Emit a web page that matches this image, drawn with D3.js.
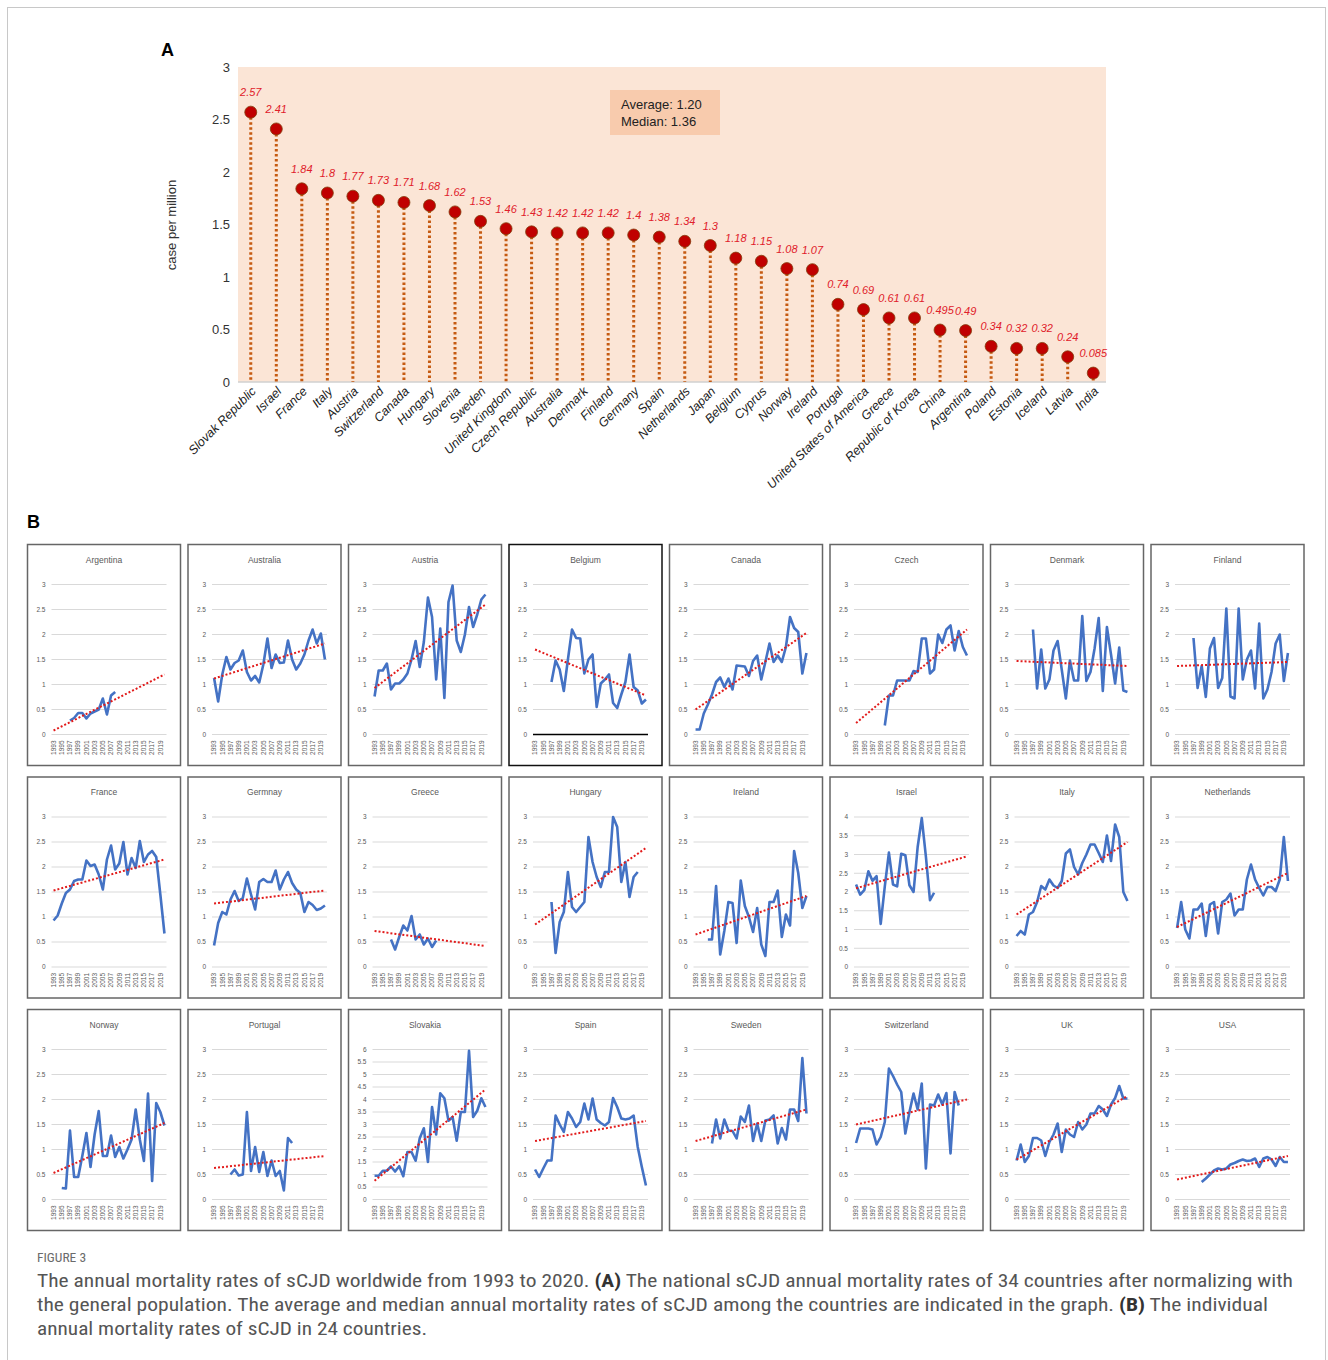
<!DOCTYPE html>
<html>
<head>
<meta charset="utf-8">
<script src="https://cdn.jsdelivr.net/npm/d3@7"></script>
<style>
body { margin: 0; background: #fff; }
svg { display: block; font-family: Arial, "Liberation Sans", sans-serif; }
</style>
</head>
<body>
<script>
var width = 1328, height = 1360;

// ---- panel A data
var countries = ["Slovak Republic","Israel","France","Italy","Austria","Switzerland","Canada","Hungary",
  "Slovenia","Sweden","United Kingdom","Czech Republic","Australia","Denmark","Finland","Germany","Spain",
  "Netherlands","Japan","Belgium","Cyprus","Norway","Ireland","Portugal","United States of America","Greece",
  "Republic of Korea","China","Argentina","Poland","Estonia","Iceland","Latvia","India"];
var rates = [2.57,2.41,1.84,1.8,1.77,1.73,1.71,1.68,1.62,1.53,1.46,1.43,1.42,1.42,1.42,1.4,1.38,
  1.34,1.3,1.18,1.15,1.08,1.07,0.74,0.69,0.61,0.61,0.495,0.49,0.34,0.32,0.32,0.24,0.085];
var rateTicks = [0,0.5,1,1.5,2,2.5,3];
var summaryLines = ["Average: 1.20","Median: 1.36"];

// ---- panel B data (one array per country, starting at firstYear)
var panelNames = ["Argentina","Australia","Austria","Belgium","Canada","Czech","Denmark","Finland",
  "France","Germnay","Greece","Hungary","Ireland","Israel","Italy","Netherlands",
  "Norway","Portugal","Slovakia","Spain","Sweden","Switzerland","UK","USA"];
var firstYear = [1997,1993,1993,1997,1993,2000,1997,1997,
  1993,1993,1997,1997,1996,1993,1993,1993,
  1995,1997,1993,1993,1997,1993,1993,1999];
var yMax = [3,3,3,3,3,3,3,3, 3,3,3,3,3,4,3,3, 3,3,6,3,3,3,3,3];

var argentina = [0.28,0.33,0.43,0.43,0.32,0.42,0.46,0.5,0.72,0.4,0.78,0.85];
var australia = [1.13,0.66,1.2,1.55,1.3,1.43,1.48,1.68,1.25,1.08,1.17,1.04,1.4,1.92,1.33,1.6,1.43,1.44,1.88,1.5,1.3,1.42,1.6,1.88,2.1,1.82,2.02,1.5];
var austria = [0.76,1.28,1.28,1.42,0.9,1.02,1.02,1.1,1.22,1.5,1.87,1.35,1.85,2.74,2.35,1.1,2.12,0.73,2.65,2.98,1.88,1.65,2.0,2.55,2.15,2.4,2.7,2.8];
var belgium = [1.05,1.48,1.3,0.87,1.5,2.1,1.93,1.92,1.22,1.5,1.6,0.55,1.02,1.1,1.2,0.63,0.53,0.8,1.05,1.6,0.95,0.88,0.62,0.7];
var canada = [0.1,0.1,0.42,0.6,0.8,1.05,1.14,0.95,1.12,0.9,1.38,1.37,1.36,1.17,1.47,1.58,1.1,1.45,1.82,1.45,1.58,1.45,1.75,2.35,2.13,2.05,1.22,1.63];
var czech = [0.18,0.78,0.78,1.08,1.08,1.08,1.08,1.27,1.25,1.92,1.92,1.22,1.3,2.0,1.83,2.1,2.18,1.68,2.07,1.75,1.58];
var denmark = [2.1,0.92,1.7,0.92,1.1,1.68,1.87,1.3,0.72,1.48,1.08,1.08,2.37,1.07,1.25,1.72,2.33,0.87,2.15,1.6,1.02,1.74,0.88,0.85];
var finland = [1.93,0.93,1.37,0.75,1.72,1.93,0.93,1.13,2.52,0.76,0.72,2.52,1.1,1.5,1.68,0.92,2.22,0.72,0.9,1.25,1.82,2.0,1.07,1.63];
var france = [0.93,1.03,1.27,1.48,1.55,1.72,1.75,1.75,2.13,2.02,2.05,1.85,1.55,2.15,2.43,1.95,2.07,2.5,1.85,2.18,1.98,2.52,2.1,2.25,2.32,2.2,1.45,0.67];
var germany = [0.43,0.88,1.1,1.05,1.35,1.52,1.32,1.38,1.77,1.45,1.15,1.7,1.76,1.7,1.7,1.93,1.55,1.75,1.9,1.68,1.55,1.48,1.1,1.3,1.24,1.14,1.17,1.23];
var greece = [0.55,0.35,0.6,0.83,0.73,1.02,0.55,0.65,0.45,0.57,0.4,0.53];
var hungary = [1.3,0.28,0.9,1.1,1.9,1.2,1.1,1.2,1.3,2.6,2.1,1.8,1.6,1.9,1.9,3.0,2.8,1.7,2.1,1.4,1.8,1.9];
var ireland = [0.55,0.55,1.62,0.25,0.72,1.3,1.28,0.48,1.73,1.22,1.0,0.7,1.18,0.45,0.22,1.3,1.3,1.53,0.6,1.05,0.83,2.32,1.88,1.18,1.42];
var israel = [2.2,1.93,2.05,2.55,2.3,2.42,1.15,2.15,3.05,2.2,2.15,3.02,2.98,2.18,2.0,3.2,3.97,2.95,1.78,1.98];
var italy = [0.62,0.72,0.65,1.05,1.1,1.3,1.62,1.55,1.75,1.63,1.58,1.72,2.27,2.35,2.0,1.85,2.08,2.25,2.45,2.45,2.28,2.1,2.63,2.12,2.85,2.6,1.5,1.32];
var netherlands = [0.78,1.3,0.75,0.57,1.15,1.15,1.27,0.62,1.25,1.3,0.67,1.3,1.35,1.47,1.03,1.15,1.15,1.75,2.05,1.75,1.58,1.43,1.6,1.6,1.52,1.75,2.6,1.72];
var norway = [0.23,0.22,1.38,0.45,0.45,0.87,1.33,0.65,1.3,1.77,0.87,0.87,1.28,0.85,1.05,0.82,1.0,1.2,1.8,1.2,0.77,2.12,0.37,1.93,1.75,1.48];
var portugal = [0.5,0.6,0.48,0.5,1.75,0.57,1.05,0.55,0.95,0.47,0.78,0.47,0.57,0.18,1.23,1.13];
var slovakia = [0.95,0.95,1.15,1.15,1.32,1.12,1.33,0.93,1.9,1.9,1.55,2.45,2.85,1.5,3.7,2.6,4.25,4.05,3.15,3.3,2.35,3.5,3.5,5.95,3.3,3.55,4.05,3.7];
var spain = [0.6,0.45,0.62,0.78,0.78,1.68,1.5,1.35,1.75,1.62,1.45,1.55,1.92,1.6,2.02,1.6,1.53,1.48,1.55,2.03,1.85,1.62,1.6,1.62,1.68,1.05,0.65,0.28];
var sweden = [1.12,1.6,1.22,1.6,1.38,1.37,1.22,1.66,1.55,1.88,1.17,1.52,1.17,1.58,1.6,1.68,1.12,1.43,1.2,1.8,1.8,1.57,2.83,1.72];
var switzerland = [1.13,1.42,1.42,1.42,1.4,1.1,1.25,1.55,2.62,2.47,2.3,2.15,1.32,1.75,2.12,1.8,2.32,0.62,1.9,1.88,2.1,1.9,2.13,0.92,2.15,1.88];
var uk = [0.78,1.1,0.75,0.87,1.23,1.23,1.18,0.87,1.15,1.3,1.52,0.95,1.4,1.3,1.25,1.55,1.4,1.5,1.72,1.72,1.87,1.8,1.67,1.9,2.03,2.27,2.02,2.02];
var usa = [0.35,0.42,0.5,0.58,0.62,0.6,0.62,0.7,0.73,0.77,0.8,0.77,0.78,0.82,0.65,0.82,0.85,0.8,0.67,0.85,0.75,0.75];

// trend line values at 1993 and 2020
var trendStart = [0.08,1.12,0.93,1.7,0.5,0.23,1.47,1.37, 1.53,1.27,0.72,0.85,0.65,2.1,1.05,0.8, 0.53,0.63,0.75,1.17,1.17,1.5,0.8,0.4];
var trendEnd = [1.2,1.82,2.6,0.78,2.03,2.1,1.37,1.45, 2.15,1.53,0.42,2.38,1.42,2.95,2.5,1.88, 1.53,0.87,4.4,1.57,1.8,2.0,2.07,0.87];

var seriesList = [argentina,australia,austria,belgium,canada,czech,denmark,finland,
  france,germany,greece,hungary,ireland,israel,italy,netherlands,
  norway,portugal,slovakia,spain,sweden,switzerland,uk,usa];
var years = d3.range(1993, 2021);

var captionHead = "FIGURE 3";

var svg = d3.select("body")
.append("svg")
.attr("width", width)
.attr("height", height);

// figure frame
svg.append("rect")
.attr("x", 7.5).attr("y", 7.5)
.attr("width", 1318).attr("height", 1370)
.attr("fill", "none")
.attr("stroke", "#c8c8c8");

// ================= Panel A
var xA = d3.scaleBand().domain(countries).range([238, 1106]);
var yA = d3.scaleLinear().domain([0, 3]).range([382, 67]);

svg.append("text")
.attr("x", 161).attr("y", 56)
.attr("font-size", 18).attr("font-weight", "bold")
.text("A");

svg.append("rect")
.attr("x", 238).attr("y", yA(3))
.attr("width", 868).attr("height", yA(0) - yA(3))
.attr("fill", "#fbe5d6");

svg.append("line")
.attr("x1", 238).attr("x2", 1106)
.attr("y1", yA(0)).attr("y2", yA(0))
.attr("stroke", "#d0d0d0").attr("stroke-width", 1.5);

svg.selectAll(".aTick")
.data(rateTicks)
.enter()
.append("text")
.attr("class", "aTick")
.attr("x", 230)
.attr("y", function(d) { return yA(d); })
.attr("dy", "0.35em")
.attr("text-anchor", "end")
.attr("font-size", 13)
.attr("fill", "#333")
.text(function(d) { return d; });

svg.append("text")
.attr("transform", "translate(176,225) rotate(-90)")
.attr("text-anchor", "middle")
.attr("font-size", 13)
.attr("fill", "#333")
.text("case per million");

// summary box
svg.append("rect")
.attr("x", 610).attr("y", 90)
.attr("width", 110).attr("height", 45)
.attr("fill", "#f8cbad");

svg.selectAll(".summary")
.data(summaryLines)
.enter()
.append("text")
.attr("class", "summary")
.attr("x", 621)
.attr("y", function(d, i) { return 109 + i * 17; })
.attr("font-size", 13)
.attr("fill", "#222")
.text(function(d) { return d; });

var cx = function(d) { return xA(d) + xA.bandwidth() / 2; };

svg.selectAll(".stem")
.data(countries)
.enter()
.append("line")
.attr("class", "stem")
.attr("x1", cx).attr("x2", cx)
.attr("y1", function(d, i) { return yA(rates[i]); })
.attr("y2", yA(0))
.attr("stroke", "#c55a11")
.attr("stroke-width", 3)
.attr("stroke-dasharray", "2.5,2.5");

svg.selectAll(".dot")
.data(countries)
.enter()
.append("circle")
.attr("class", "dot")
.attr("cx", cx)
.attr("cy", function(d, i) { return yA(rates[i]); })
.attr("r", 6)
.attr("fill", "#c00000")
.attr("stroke", "#843c0c")
.attr("stroke-width", 0.8);

svg.selectAll(".valLabel")
.data(countries)
.enter()
.append("text")
.attr("class", "valLabel")
.attr("x", cx)
.attr("y", function(d, i) { return yA(rates[i]) - 16; })
.attr("text-anchor", "middle")
.attr("font-size", 11)
.attr("font-style", "italic")
.attr("fill", "#e0202a")
.text(function(d, i) { return rates[i]; });

svg.selectAll(".cLabel")
.data(countries)
.enter()
.append("text")
.attr("class", "cLabel")
.attr("transform", function(d) { return "translate(" + (cx(d) + 6) + ",392) rotate(-45)"; })
.attr("text-anchor", "end")
.attr("font-size", 12.5)
.attr("font-style", "italic")
.attr("fill", "#222")
.text(function(d) { return d; });

// ================= Panel B
svg.append("text")
.attr("x", 27).attr("y", 528)
.attr("font-size", 18).attr("font-weight", "bold")
.text("B");

var pw = 153, ph = 221;
var plotL = 24, plotR = 139, plotT = 40, plotB = 190;

var xB = d3.scaleBand().domain(years).range([plotL, plotR]);
var xc = function(yr) { return xB(yr) + xB.bandwidth() / 2; };

var panels = svg.selectAll(".panel")
.data(panelNames)
.enter()
.append("g")
.attr("class", "panel")
.attr("transform", function(d, i) {
  var col = i % 8, row = Math.floor(i / 8);
  return "translate(" + (27.5 + col * 160.5) + "," + (544.5 + row * 232.5) + ")";
});

panels.each(function(name, i) {
  var g = d3.select(this);
  var yB = d3.scaleLinear().domain([0, yMax[i]]).range([plotB, plotT]);
  var ticks = d3.range(0, yMax[i] + 0.01, 0.5);
  var isBelgium = name == "Belgium";

  g.append("rect")
  .attr("width", pw).attr("height", ph)
  .attr("fill", "#fff")
  .attr("stroke", isBelgium ? "#111" : "#666")
  .attr("stroke-width", 1.5);

  g.append("text")
  .attr("x", pw / 2).attr("y", 18)
  .attr("text-anchor", "middle")
  .attr("font-size", 8.5)
  .attr("fill", "#595959")
  .text(name);

  g.selectAll(".grid")
  .data(ticks)
  .enter()
  .append("line")
  .attr("class", "grid")
  .attr("x1", plotL).attr("x2", plotR)
  .attr("y1", function(d) { return yB(d); })
  .attr("y2", function(d) { return yB(d); })
  .attr("stroke", function(d) { return (isBelgium && d == 0) ? "#000" : "#d9d9d9"; })
  .attr("stroke-width", function(d) { return (isBelgium && d == 0) ? 1.5 : 1; });

  g.selectAll(".yt")
  .data(ticks)
  .enter()
  .append("text")
  .attr("class", "yt")
  .attr("x", 18)
  .attr("y", function(d) { return yB(d); })
  .attr("dy", "0.35em")
  .attr("text-anchor", "end")
  .attr("font-size", 6.5)
  .attr("fill", "#595959")
  .text(function(d) { return d; });

  g.selectAll(".yr")
  .data(years.filter(function(y) { return (y - 1993) % 2 == 0; }))
  .enter()
  .append("text")
  .attr("class", "yr")
  .attr("transform", function(y) { return "translate(" + (xc(y) + 2.3) + "," + (plotB + 6) + ") rotate(-90)"; })
  .attr("text-anchor", "end")
  .attr("font-size", 6.5)
  .attr("fill", "#595959")
  .text(function(y) { return y; });

  var pts = seriesList[i].map(function(v, k) { return [firstYear[i] + k, v]; });

  g.append("path")
  .datum(pts)
  .attr("fill", "none")
  .attr("stroke", "#4472c4")
  .attr("stroke-width", 2.6)
  .attr("stroke-linejoin", "round")
  .attr("d", d3.line()
    .x(function(p) { return xc(p[0]); })
    .y(function(p) { return yB(p[1]); }));

  g.append("line")
  .attr("x1", xc(1993)).attr("x2", xc(2020))
  .attr("y1", yB(trendStart[i])).attr("y2", yB(trendEnd[i]))
  .attr("stroke", "#e21b1b")
  .attr("stroke-width", 2)
  .attr("stroke-dasharray", "2,2");
});

// ================= Caption
var capFont = "'Liberation Sans Narrow', 'Roboto Condensed', Roboto, sans-serif";

svg.append("text")
.attr("x", 37).attr("y", 1262)
.attr("font-family", capFont)
.attr("font-size", 13.5)
.attr("fill", "#6b6b6b")
.text(captionHead);

var cap1 = svg.append("text")
.attr("x", 37).attr("y", 1287)
.attr("font-family", capFont)
.attr("font-size", 18)
.attr("fill", "#555")
.attr("textLength", 1256)
.attr("lengthAdjust", "spacingAndGlyphs");
cap1.append("tspan").text("The annual mortality rates of sCJD worldwide from 1993 to 2020. ");
cap1.append("tspan").attr("font-weight", "bold").attr("fill", "#333").text("(A)");
cap1.append("tspan").text(" The national sCJD annual mortality rates of 34 countries after normalizing with");

var cap2 = svg.append("text")
.attr("x", 37).attr("y", 1311)
.attr("font-family", capFont)
.attr("font-size", 18)
.attr("fill", "#555")
.attr("textLength", 1231)
.attr("lengthAdjust", "spacingAndGlyphs");
cap2.append("tspan").text("the general population. The average and median annual mortality rates of sCJD among the countries are indicated in the graph. ");
cap2.append("tspan").attr("font-weight", "bold").attr("fill", "#333").text("(B)");
cap2.append("tspan").text(" The individual");

svg.append("text")
.attr("x", 37).attr("y", 1335)
.attr("font-family", capFont)
.attr("font-size", 18)
.attr("fill", "#555")
.attr("textLength", 390)
.attr("lengthAdjust", "spacingAndGlyphs")
.text("annual mortality rates of sCJD in 24 countries.");
</script>
</body>
</html>
